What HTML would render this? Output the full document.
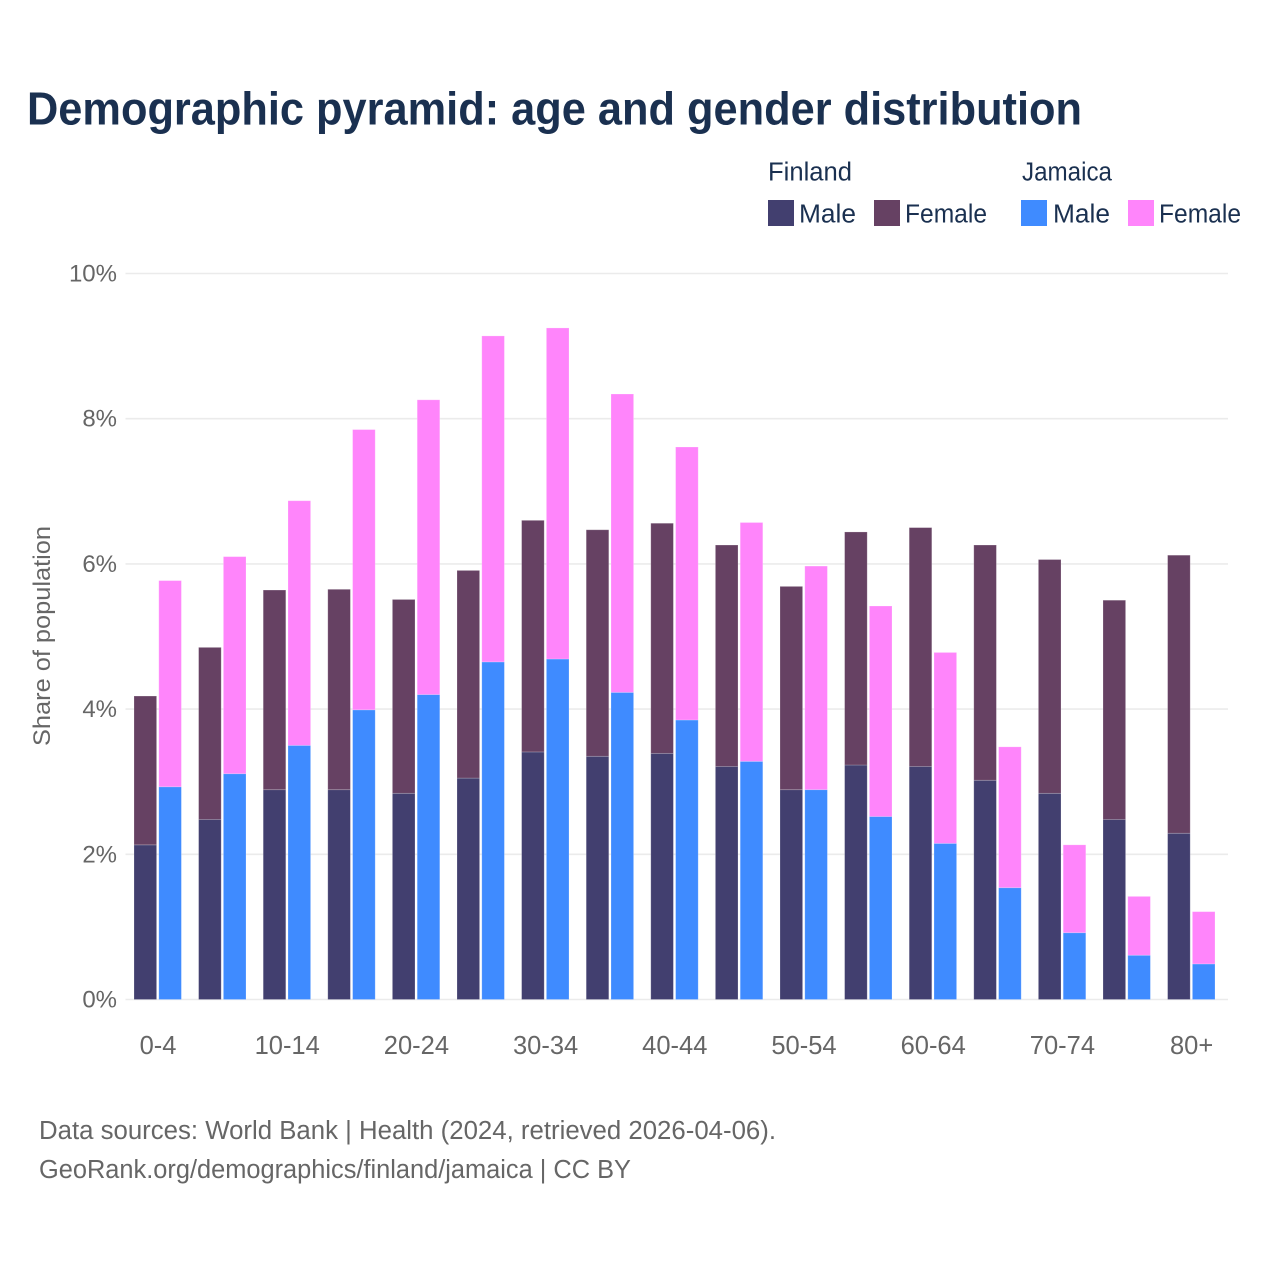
<!DOCTYPE html>
<html lang="en">
<head>
<meta charset="utf-8">
<title>Demographic pyramid: age and gender distribution</title>
<style>
html,body{margin:0;padding:0;background:#fff;width:1280px;height:1280px;overflow:hidden}
svg{display:block}
text{font-family:"Liberation Sans",sans-serif}
.legend{fill:#1a3050;font-size:25.5px}
.muted{fill:#666}
.foot{fill:#666;font-size:25.5px}
</style>
</head>
<body>
<svg id="chart" xmlns="http://www.w3.org/2000/svg" width="1280" height="1280" viewBox="0 0 1280 1280">
  <rect width="1280" height="1280" fill="#fff"/>
  <text x="27" y="124.5" font-size="46" font-weight="700" fill="#1a3050" textLength="1055" lengthAdjust="spacingAndGlyphs">Demographic pyramid: age and gender distribution</text>

  <g>
    <text class="legend" x="768" y="180.5" textLength="84" lengthAdjust="spacingAndGlyphs">Finland</text>
    <text class="legend" x="1022" y="180.5" textLength="90" lengthAdjust="spacingAndGlyphs">Jamaica</text>
    <rect x="768" y="200" width="26" height="26" fill="#423f6f"/>
    <text class="legend" x="799" y="222.5" textLength="57" lengthAdjust="spacingAndGlyphs">Male</text>
    <rect x="874" y="200" width="26" height="26" fill="#664163"/>
    <text class="legend" x="905" y="222.5" textLength="82" lengthAdjust="spacingAndGlyphs">Female</text>
    <rect x="1021" y="200" width="26" height="26" fill="#3f8bff"/>
    <text class="legend" x="1053" y="222.5" textLength="57" lengthAdjust="spacingAndGlyphs">Male</text>
    <rect x="1128" y="200" width="26" height="26" fill="#ff85fb"/>
    <text class="legend" x="1159" y="222.5" textLength="82" lengthAdjust="spacingAndGlyphs">Female</text>
  </g>

  <g id="grid"></g>
  <g id="yticks"></g>
  <g id="bars"></g>
  <g id="xticks"></g>

  <text class="muted" font-size="24.5" text-anchor="middle" transform="translate(50 636) rotate(-90)" textLength="220" lengthAdjust="spacingAndGlyphs">Share of population</text>

  <text class="foot" x="39" y="1139" textLength="737" lengthAdjust="spacingAndGlyphs">Data sources: World Bank | Health (2024, retrieved 2026-04-06).</text>
  <text class="foot" x="39" y="1178" textLength="592" lengthAdjust="spacingAndGlyphs">GeoRank.org/demographics/finland/jamaica | CC BY</text>
</svg>
<script>
const ageGroups = ["0-4","5-9","10-14","15-19","20-24","25-29","30-34","35-39","40-44","45-49","50-54","55-59","60-64","65-69","70-74","75-79","80+"];
const finlandMale = [2.13,2.48,2.89,2.89,2.84,3.05,3.41,3.35,3.39,3.21,2.89,3.23,3.21,3.02,2.84,2.48,2.29];
const finlandFemale = [2.05,2.37,2.75,2.76,2.67,2.86,3.19,3.12,3.17,3.05,2.80,3.21,3.29,3.24,3.22,3.02,3.83];
const jamaicaMale = [2.93,3.11,3.50,3.99,4.20,4.65,4.69,4.23,3.85,3.28,2.89,2.52,2.15,1.54,0.92,0.61,0.49];
const jamaicaFemale = [2.84,2.99,3.37,3.86,4.06,4.49,4.56,4.11,3.76,3.29,3.08,2.90,2.63,1.94,1.21,0.81,0.72];
const yTicks = [0,2,4,6,8,10];

const NS = "http://www.w3.org/2000/svg";
const yScale = v => 999.5 - v * 72.6;
const xCenter = i => 158 + i * 64.6;

function makeEl(tag, parent, attrs) {
  const el = document.createElementNS(NS, tag);
  for (const k in attrs) el.setAttribute(k, attrs[k]);
  parent.appendChild(el);
  return el;
}

const grid = document.getElementById("grid");
const yTickGroup = document.getElementById("yticks");
yTicks.forEach(t => {
  const line = makeEl("line", grid, {x1:125.5, x2:1228, y1:yScale(t), y2:yScale(t), stroke:"#ebebeb", "stroke-width":1.6});
  
  
  const label = makeEl("text", yTickGroup, {x:117, y:yScale(t) + 8, "text-anchor":"end", "font-size":24, fill:"#666"});
  
  
  label.textContent = t + "%";
});

const barGroup = document.getElementById("bars");
function drawSegment(x, base, value, fill) {
  const top = yScale(base + value);
  const seg = makeEl("rect", barGroup, {x:x, y:top, width:22.6, height:yScale(base) - top, fill:fill, stroke:"#ffffff", "stroke-opacity":0.25, "stroke-width":0.8});
  
  
}
ageGroups.forEach((g, i) => {
  const c = xCenter(i);
  drawSegment(c - 24, 0, finlandMale[i], "#423f6f");
  drawSegment(c - 24, finlandMale[i], finlandFemale[i], "#664163");
  drawSegment(c + 0.8, 0, jamaicaMale[i], "#3f8bff");
  drawSegment(c + 0.8, jamaicaMale[i], jamaicaFemale[i], "#ff85fb");
});

const xTickGroup = document.getElementById("xticks");
ageGroups.forEach((g, i) => {
  if (i % 2) return;
  const label = makeEl("text", xTickGroup, {x:xCenter(i), y:1054, "text-anchor":"middle", "font-size":25.5, fill:"#666"});
  
  
  label.textContent = g;
});
</script>
</body>
</html>
